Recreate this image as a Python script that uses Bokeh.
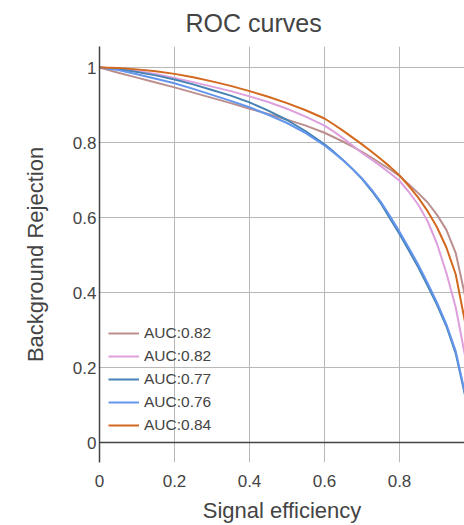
from bokeh.plotting import figure
from bokeh.models import Range1d, FixedTicker, Span, Legend, LegendItem
from bokeh.embed import file_html
from bokeh.resources import INLINE

# ---- data ----
signal_eff = [0.0, 0.05, 0.1, 0.15, 0.2, 0.25, 0.3, 0.35, 0.4, 0.45, 0.5, 0.55,
              0.6, 0.625, 0.65, 0.675, 0.7, 0.725, 0.75, 0.775, 0.8, 0.825,
              0.85, 0.875, 0.9, 0.925, 0.95, 0.975, 1.0]

rej_rosybrown = [1.0, 0.986, 0.973, 0.960, 0.947, 0.933, 0.919, 0.905, 0.890, 0.876,
                 0.861, 0.845, 0.826, 0.814, 0.802, 0.789, 0.775, 0.760, 0.744,
                 0.728, 0.711, 0.688, 0.665, 0.640, 0.607, 0.567, 0.505, 0.39, 0.0]
rej_plum = [1.0, 0.997, 0.991, 0.983, 0.972, 0.961, 0.949, 0.937, 0.923, 0.908,
            0.890, 0.869, 0.845, 0.829, 0.811, 0.792, 0.772, 0.755, 0.737,
            0.718, 0.698, 0.668, 0.634, 0.590, 0.530, 0.452, 0.36, 0.23, 0.0]
rej_steelblue = [1.0, 0.996, 0.988, 0.979, 0.968, 0.955, 0.940, 0.925, 0.907, 0.885,
                 0.860, 0.830, 0.795, 0.775, 0.753, 0.729, 0.703, 0.672, 0.638,
                 0.597, 0.556, 0.512, 0.467, 0.418, 0.367, 0.310, 0.237, 0.125, 0.0]
rej_cornflower = [1.0, 0.993, 0.982, 0.970, 0.958, 0.943, 0.927, 0.911, 0.894, 0.874,
                  0.852, 0.825, 0.792, 0.773, 0.752, 0.729, 0.704, 0.675, 0.642,
                  0.603, 0.562, 0.519, 0.474, 0.425, 0.373, 0.315, 0.243, 0.13, 0.0]
rej_chocolate = [1.0, 0.999, 0.995, 0.990, 0.983, 0.974, 0.963, 0.951, 0.937, 0.922,
                 0.905, 0.886, 0.864, 0.848, 0.831, 0.813, 0.795, 0.776, 0.756,
                 0.735, 0.712, 0.684, 0.653, 0.617, 0.574, 0.520, 0.448, 0.32, 0.0]

series = [rej_rosybrown, rej_plum, rej_steelblue, rej_cornflower, rej_chocolate]
labels = ["AUC:0.82", "AUC:0.82", "AUC:0.77", "AUC:0.76", "AUC:0.84"]
colors = ["rosybrown", "plum", "steelblue", "cornflowerblue", "chocolate"]

x_ticks = [0, 0.2, 0.4, 0.6, 0.8, 1.0]
x_tick_labels = ["0", "0.2", "0.4", "0.6", "0.8", "1"]
y_ticks = [0, 0.2, 0.4, 0.6, 0.8, 1.0]
y_tick_labels = ["0", "0.2", "0.4", "0.6", "0.8", "1"]
title_text = "ROC curves"

FONT = "Liberation Sans"
TXT = "#444444"

p = figure(width=464, height=525,
           x_range=Range1d(0, 0.9733), y_range=Range1d(-0.0533, 1.056),
           output_backend="svg", toolbar_location=None,
           min_border_left=99, min_border_right=0,
           min_border_top=46, min_border_bottom=63)

p.outline_line_color = None
p.background_fill_color = "white"

# title
p.title.text = title_text
p.title.text_font = FONT
p.title.text_font_size = "25px"
p.title.text_font_style = "normal"
p.title.text_color = TXT
p.title.align = "left"
p.title.offset = 86
p.title.standoff = 15
p.title.vertical_align = "top"

# grid
p.xgrid.ticker = FixedTicker(ticks=x_ticks)
p.ygrid.ticker = FixedTicker(ticks=y_ticks)
p.grid.grid_line_color = "#b8b8b8"
p.grid.grid_line_width = 1

# x axis
xa = p.xaxis[0]
xa.ticker = FixedTicker(ticks=x_ticks)
xa.major_label_overrides = {t: l for t, l in zip(x_ticks, x_tick_labels)}
xa.axis_line_color = None
xa.major_tick_line_color = None
xa.minor_tick_line_color = None
xa.major_label_text_font = FONT
xa.major_label_text_font_size = "17px"
xa.major_label_text_color = TXT
xa.major_label_standoff = 6
xa.axis_label = "Signal efficiency"
xa.axis_label_text_font = FONT
xa.axis_label_text_font_size = "22px"
xa.axis_label_text_font_style = "normal"
xa.axis_label_text_color = TXT
xa.axis_label_standoff = 8

# y axis
ya = p.yaxis[0]
ya.ticker = FixedTicker(ticks=y_ticks)
ya.major_label_overrides = {t: l for t, l in zip(y_ticks, y_tick_labels)}
ya.axis_line_color = TXT
ya.axis_line_width = 1.5
ya.major_tick_line_color = None
ya.minor_tick_line_color = None
ya.major_label_text_font = FONT
ya.major_label_text_font_size = "17px"
ya.major_label_text_color = TXT
ya.major_label_standoff = -3
ya.axis_label = "Background Rejection"
ya.axis_label_text_font = FONT
ya.axis_label_text_font_size = "22px"
ya.axis_label_text_font_style = "normal"
ya.axis_label_text_color = TXT
ya.axis_label_standoff = 22

# zero line
p.add_layout(Span(location=0, dimension="width", line_color=TXT, line_width=1.5))

items = []
for ys, lab, col in zip(series, labels, colors):
    r = p.line(signal_eff, ys, line_color=col, line_width=2)
    items.append(LegendItem(label=lab, renderers=[r]))

legend = Legend(items=items, location=(9, 27), padding=0, margin=0,
                border_line_color=None, background_fill_alpha=0,
                glyph_width=31, glyph_height=20, label_height=20, spacing=3,
                label_standoff=5, label_text_font=FONT,
                label_text_font_size="15.5px", label_text_color=TXT)
p.add_layout(legend)

open("out.html", "w").write(file_html(p, INLINE))
